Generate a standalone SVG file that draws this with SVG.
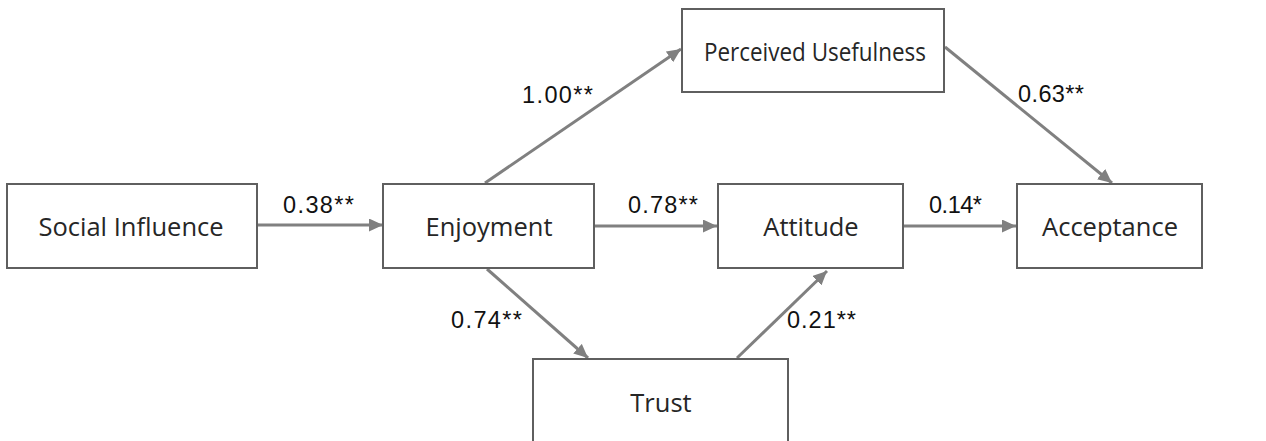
<svg xmlns="http://www.w3.org/2000/svg" width="1266" height="441" viewBox="0 0 1266 441">
  <style>
    .box { fill: #ffffff; stroke: #5f5f5f; stroke-width: 2; }
    .name { font-family: "Open Sans", "Liberation Sans", sans-serif; font-size: 25.5px; fill: #262626; text-anchor: middle; }
    .coef { font-family: "Liberation Sans", Arial, sans-serif; font-size: 23.5px; fill: #111111; }
    .edge { fill: none; stroke: #808080; stroke-width: 3; marker-end: url(#head); }
  </style>
  <defs>
    <marker id="head" markerUnits="userSpaceOnUse" markerWidth="15" markerHeight="13" refX="14" refY="6.5" orient="auto">
      <path d="M0,0 L14,6.5 L0,13 z" fill="#808080"/>
    </marker>
  </defs>
  <rect width="1266" height="441" fill="#ffffff"/>

  <g id="connectors">
    <line class="edge" x1="258" y1="225" x2="383" y2="225"/>
    <line class="edge" x1="485" y1="183" x2="681" y2="49"/>
    <line class="edge" x1="945" y1="47" x2="1112" y2="183"/>
    <line class="edge" x1="595" y1="226" x2="717" y2="226"/>
    <line class="edge" x1="904" y1="226" x2="1016" y2="226"/>
    <line class="edge" x1="487" y1="269" x2="588" y2="358"/>
    <line class="edge" x1="737" y1="358" x2="827" y2="271"/>
  </g>

  <g id="social-influence">
    <rect class="box" x="7" y="184" width="250" height="84"/>
    <text class="name" x="131" y="236">Social Influence</text>
  </g>
  <g id="enjoyment">
    <rect class="box" x="383" y="184" width="211" height="84"/>
    <text class="name" x="489" y="236">Enjoyment</text>
  </g>
  <g id="perceived-usefulness">
    <rect class="box" x="682" y="9" width="262" height="83"/>
    <text class="name" x="815" y="61" font-size="24" textLength="222" lengthAdjust="spacingAndGlyphs">Perceived Usefulness</text>
  </g>
  <g id="attitude">
    <rect class="box" x="718" y="184" width="185" height="84"/>
    <text class="name" x="811" y="236">Attitude</text>
  </g>
  <g id="acceptance">
    <rect class="box" x="1017" y="184" width="185" height="84"/>
    <text class="name" x="1110" y="236">Acceptance</text>
  </g>
  <g id="trust">
    <rect class="box" x="533" y="359" width="255" height="100"/>
    <text class="name" x="661" y="412">Trust</text>
  </g>

  <g id="coefficients">
    <text class="coef" x="283" y="213" textLength="71">0.38**</text>
    <text class="coef" x="522" y="103" textLength="71">1.00**</text>
    <text class="coef" x="1018" y="102" textLength="66">0.63**</text>
    <text class="coef" x="628" y="213" textLength="70">0.78**</text>
    <text class="coef" x="929" y="213" textLength="53">0.14*</text>
    <text class="coef" x="451" y="328" textLength="71">0.74**</text>
    <text class="coef" x="787" y="328" textLength="69">0.21**</text>
  </g>
</svg>
